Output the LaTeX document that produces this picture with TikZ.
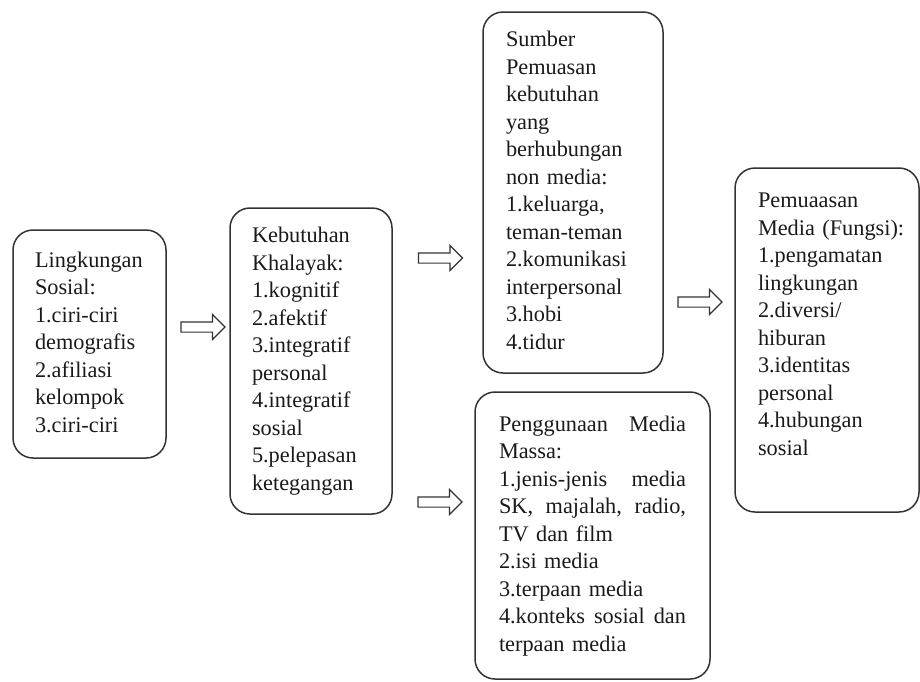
\documentclass[tikz,border=0pt]{standalone}
\usepackage{fontspec}
\setmainfont{Liberation Serif}
\usetikzlibrary{shapes.arrows}
\hyphenpenalty=10000
\exhyphenpenalty=10000
\definecolor{edge}{HTML}{333333}
\definecolor{ink}{HTML}{1A1A1A}
\begin{document}
\begin{tikzpicture}[x=1pt,y=-1pt,
  box/.style={draw=edge, line width=1.5pt, rounded corners=20pt, align=left,
    text=ink, font=\fontsize{22.3}{27.5}\selectfont, inner ysep=0pt, anchor=center},
  blockarrow/.style={single arrow, draw=edge, line width=1.2pt, fill=white,
    inner sep=4.5pt, single arrow head extend=7.5pt, minimum height=44pt,
    minimum width=1pt, anchor=center}]
\useasboundingbox[fill=white] (0,0) rectangle (920,681);

\node[box, minimum width=153pt, minimum height=228pt, inner xsep=22pt, text width=109pt]
  (lingkungan) at (89.5,344) {\strut Lingkungan\\Sosial:\\1.ciri-ciri\\demografis\\2.afiliasi\\kelompok\\3.ciri-ciri\strut};

\node[box, minimum width=162pt, minimum height=306pt, inner xsep=22pt, text width=118pt]
  (kebutuhan) at (311,361) {\strut Kebutuhan\\Khalayak:\\1.kognitif\\2.afektif\\3.integratif\\personal\\4.integratif\\sosial\\5.pelepasan\\ketegangan\strut};

\node[box, minimum width=180pt, minimum height=361pt, inner xsep=23pt, text width=134pt]
  (sumber) at (573,192.5) {\strut Sumber\\Pemuasan\\kebutuhan\\yang\\berhubungan\\non media:\\1.keluarga,\\teman-teman\\2.komunikasi\\interpersonal\\3.hobi\\4.tidur\strut};

\node[box, minimum width=184pt, minimum height=344pt, inner xsep=23pt, text width=138pt]
  (pemuasan) at (827,340) {\strut Pemuaasan\\Media~(Fungsi):\\1.pengamatan\\lingkungan\\2.diversi/\\hiburan\\3.identitas\\personal\\4.hubungan\\sosial\rule[-36pt]{0pt}{36pt}};

\node[box, minimum width=235pt, minimum height=287pt, inner xsep=24pt, text width=187pt]
  (penggunaan) at (592.5,535.5) {\strut Penggunaan\hfill Media\\Massa:\\1.jenis-jenis\hfill media\\SK,\hfill majalah,\hfill radio,\\TV dan film\\2.isi media\\3.terpaan media\\4.konteks\hfill sosial\hfill dan\\terpaan media\strut};

\node[blockarrow] (a1) at (200.5,327) {};
\node[blockarrow] (a2) at (438,258) {};
\node[blockarrow] (a3) at (437.5,502) {};
\node[blockarrow] (a4) at (697.5,302) {};
\end{tikzpicture}
\end{document}
